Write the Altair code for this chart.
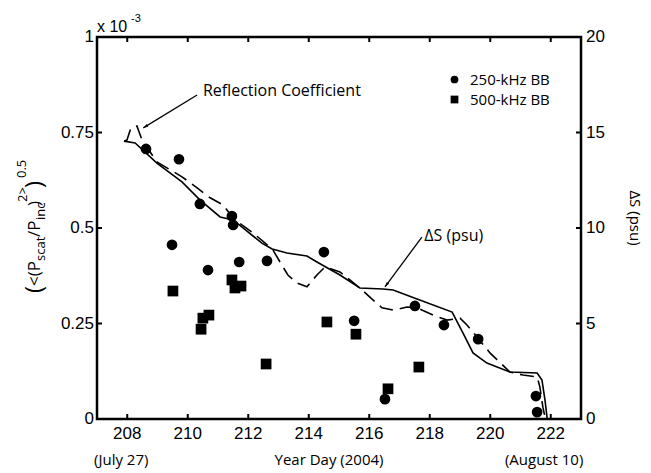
import altair as alt
import pandas as pd

# ---------------- data ----------------
c250_day = [208.62, 209.71, 210.40, 211.46, 211.50, 209.48, 210.67, 211.70, 212.62,
            214.50, 215.50, 216.52, 217.51, 218.47, 219.60, 221.51, 221.55]
c250_val = [0.707, 0.680, 0.563, 0.531, 0.508, 0.456, 0.390, 0.411, 0.414,
            0.437, 0.257, 0.052, 0.296, 0.246, 0.209, 0.060, 0.018]

s500_day = [209.51, 210.50, 210.70, 210.44, 211.46, 211.56, 211.76, 212.59,
            214.60, 215.56, 216.62, 217.64]
s500_val = [0.335, 0.264, 0.272, 0.235, 0.364, 0.343, 0.348, 0.144,
            0.254, 0.222, 0.079, 0.136]

refl_day = [207.90, 207.99, 208.12, 208.32, 208.49, 208.98, 209.81, 210.31, 210.74, 211.17,
            211.50, 211.79, 212.16, 212.55, 212.82, 213.05, 213.31, 213.61, 213.94,
            214.27, 214.54, 215.03, 215.69, 216.02, 216.42, 216.79, 217.25, 217.58,
            218.11, 218.57, 219.00, 219.23, 219.56, 219.99, 220.65, 221.08, 221.55,
            221.64, 221.74, 221.81]
refl_val = [0.728, 0.730, 0.762, 0.767, 0.730, 0.673, 0.634, 0.605, 0.579, 0.560,
            0.526, 0.508, 0.487, 0.461, 0.442, 0.411, 0.377, 0.356, 0.346,
            0.377, 0.398, 0.385, 0.343, 0.319, 0.291, 0.285, 0.293, 0.291,
            0.272, 0.259, 0.264, 0.246, 0.215, 0.173, 0.123, 0.115, 0.110,
            0.084, 0.031, 0.005]

ds_day = [207.89, 208.26, 208.98, 209.81, 210.40, 211.07, 211.50, 212.45, 212.79,
          213.28, 213.94, 214.27, 215.03, 215.69, 216.45, 216.79, 217.58, 218.74,
          219.10, 219.43, 219.89, 220.65, 221.55, 221.71, 221.81, 221.88]
ds_psu = [14.55, 14.45, 13.40, 12.41, 11.47, 10.58, 10.42, 9.21, 8.90,
          8.69, 8.53, 8.22, 7.54, 6.86, 6.81, 6.75, 6.28, 5.60,
          4.50, 3.46, 2.93, 2.46, 2.41, 2.04, 0.99, 0.05]

series_names = ["250-kHz BB", "500-kHz BB"]
x_ticks = [208, 210, 212, 214, 216, 218, 220, 222]
x_labels = ["208", "210", "212", "214", "216", "218", "220", "222"]
yl_ticks = [0, 0.25, 0.5, 0.75, 1]
yl_labels = ["0", "0.25", "0.5", "0.75", "1"]
yr_ticks = [0, 5, 10, 15, 20]
yr_labels = ["0", "5", "10", "15", "20"]

ann_text = ["Reflection Coefficient", "ΔS (psu)"]
ann_day = [210.50, 217.82]
ann_val = [0.859, 0.479]
arrow_day = [210.31, 217.74]
arrow_val = [0.848, 0.476]
arrow_day2 = [208.53, 216.52]
arrow_val2 = [0.762, 0.346]
arrow_angle = [238.6, 216.5]

date_text = ["(July 27)", "Year Day (2004)", "(August 10)"]
date_day = [207.80, 214.67, 221.78]

# ---------------- tables ----------------
pts = pd.DataFrame({
    "day": c250_day + s500_day,
    "val": c250_val + s500_val,
    "series": [series_names[0]] * len(c250_day) + [series_names[1]] * len(s500_day),
})
refl = pd.DataFrame({"day": refl_day, "val": refl_val})
ds = pd.DataFrame({"day": ds_day, "psu": ds_psu})
ann = pd.DataFrame({"t": ann_text, "day": ann_day, "val": ann_val})
arr = pd.DataFrame({"d1": arrow_day, "v1": arrow_val, "d2": arrow_day2,
                    "v2": arrow_val2, "ang": arrow_angle})
dates = pd.DataFrame({"t": date_text, "day": date_day})
xt = pd.DataFrame({"xv": x_ticks, "lab": x_labels})
ylt = pd.DataFrame({"yv": yl_ticks, "lab": yl_labels})
yrt = pd.DataFrame({"rv": yr_ticks, "lab": yr_labels})

W, H = 484, 382
TL = 5  # inward tick length
TICKFONT = "Liberation Sans"
TXTFONT = "Open Sans"

xscale = alt.Scale(domain=[207, 223], nice=False, zero=False)
yscale = alt.Scale(domain=[0, 1], nice=False)
rscale = alt.Scale(domain=[0, 20], nice=False)


def X(field):
    return alt.X(field, type="quantitative", scale=xscale, axis=None)


def Y(field):
    return alt.Y(field, type="quantitative", scale=yscale, axis=None)


def R(field):
    return alt.Y(field, type="quantitative", scale=rscale, axis=None)


points = alt.Chart(pts).mark_point(filled=True, opacity=1, color="black", size=115).encode(
    x=X("day"),
    y=Y("val"),
    shape=alt.Shape("series:N",
                    scale=alt.Scale(domain=series_names, range=["circle", "square"]),
                    legend=alt.Legend(title=None, orient="none", legendX=350, legendY=35,
                                      symbolSize=60, symbolFillColor="black",
                                      symbolStrokeColor="black", symbolStrokeWidth=0,
                                      labelFont=TXTFONT, labelFontSize=15,
                                      labelColor="black", rowPadding=4, labelOffset=8)),
)

# inward ticks on all four sides
tick_style = dict(color="black", strokeWidth=2)
t_bottom = alt.Chart(xt).mark_rule(**tick_style).encode(
    x=X("xv"), y=alt.value(H), y2=alt.value(H - TL))
t_top = alt.Chart(xt).mark_rule(**tick_style).encode(
    x=X("xv"), y=alt.value(0), y2=alt.value(TL))
t_left = alt.Chart(ylt).mark_rule(**tick_style).encode(
    y=Y("yv"), x=alt.value(0), x2=alt.value(TL))
t_right = alt.Chart(yrt).mark_rule(**tick_style).encode(
    y=R("rv"), x=alt.value(W - TL), x2=alt.value(W))

# tick labels
lab_style = dict(font=TICKFONT, fontSize=17, color="black")
l_bottom = alt.Chart(xt).mark_text(align="center", baseline="top", dy=0, **lab_style).encode(
    x=X("xv"), y=alt.value(H + 7), text="lab:N")
l_left = alt.Chart(ylt).mark_text(align="right", baseline="middle", **lab_style).encode(
    y=Y("yv"), x=alt.value(-3), text="lab:N")
l_right = alt.Chart(yrt).mark_text(align="left", baseline="middle", **lab_style).encode(
    y=R("rv"), x=alt.value(W + 5), text="lab:N")

dashed = alt.Chart(refl).mark_line(color="black", strokeWidth=1.6, strokeDash=[14, 7]).encode(
    x=X("day"), y=Y("val"), order=alt.Order("day:Q")
)

solid = alt.Chart(ds).mark_line(color="black", strokeWidth=1.6).encode(
    x=X("day"), y=R("psu"), order=alt.Order("day:Q"),
)

ann_txt = alt.Chart(ann).mark_text(align="left", baseline="middle", font=TXTFONT,
                                   fontSize=16, color="black").encode(
    x=X("day"), y=Y("val"), text="t:N")

arrow_line = alt.Chart(arr).mark_rule(color="black", strokeWidth=1.3).encode(
    x=X("d1"), y=Y("v1"), x2="d2:Q", y2="v2:Q")
arrow_head = alt.Chart(arr).mark_point(
    shape="M0,0L0.7,2.5L-0.7,2.5Z", filled=True, color="black", opacity=1, size=16
).encode(x=X("d2"), y=Y("v2"), angle=alt.Angle("ang:Q", scale=None))

date_txt = alt.Chart(dates).mark_text(align="center", baseline="middle", font=TXTFONT,
                                      fontSize=15, color="black").encode(
    x=X("day"), y=alt.value(423), text="t:N")


def txt(s, px, py, size, angle=0, font=TXTFONT, align="left", baseline="alphabetic"):
    return alt.Chart(pd.DataFrame({"t": [s]})).mark_text(
        align=align, baseline=baseline, font=font, fontSize=size, angle=angle, color="black"
    ).encode(text="t:N", x=alt.value(px - 97), y=alt.value(py - 37))


extras = [
    txt("x 10", 97, 32, 16, font=TICKFONT),
    txt("-3", 131, 22, 11, font=TICKFONT),
    txt("ΔS (psu)", 635, 218, 15, angle=90, align="center", baseline="middle"),
    # left title pieces (rotated, reading bottom to top)
    txt("(", 42, 293, 24, angle=270),
    txt("<(P", 40, 286, 17, angle=270),
    txt("scat", 45, 261, 13, angle=270),
    txt("/P", 40, 237, 17, angle=270),
    txt("inc", 45, 220, 13, angle=270),
    txt(")", 40, 206, 17, angle=270),
    txt("2>", 27, 202, 13, angle=270),
    txt(")", 42, 188, 24, angle=270),
    txt("0.5", 26, 178, 13, angle=270),
]

chart = alt.layer(
    points, dashed, solid, t_bottom, t_top, t_left, t_right, l_bottom, l_left, l_right,
    ann_txt, arrow_line, arrow_head, date_txt, *extras
).resolve_scale(y="independent").properties(
    width=W, height=H,
    padding={"left": 97, "top": 37, "right": 70, "bottom": 54},
    autosize=alt.AutoSizeParams(type="none"),
    background="white",
).configure_view(stroke="black", strokeWidth=2.5)

chart.save("out.html", embed_options={"renderer": "svg", "actions": False})
